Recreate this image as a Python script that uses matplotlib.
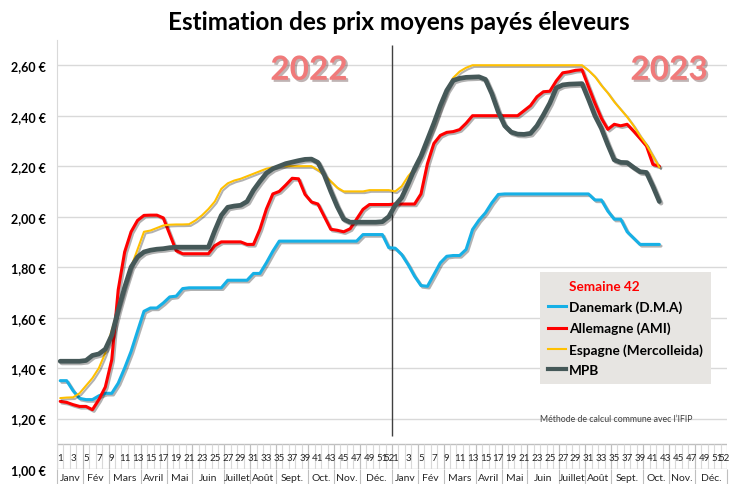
import numpy as np
import matplotlib
matplotlib.use("Agg")
import matplotlib.pyplot as plt
import matplotlib.patheffects as pe
from matplotlib.lines import Line2D
from matplotlib.transforms import blended_transform_factory

plt.rcParams['font.family'] = ['Lato', 'DejaVu Sans']

# prix hebdomadaires (EUR/kg) - 2022 (52 semaines) puis 2023 (semaines 1 a 42)
danemark_2022 = [1.35, 1.35, 1.31, 1.28, 1.275, 1.275, 1.29, 1.30, 1.30, 1.34,
                 1.40, 1.466, 1.546, 1.625, 1.638, 1.638, 1.658, 1.682, 1.685, 1.715,
                 1.718, 1.718, 1.718, 1.718, 1.718, 1.718, 1.748, 1.748, 1.748, 1.748,
                 1.775, 1.775, 1.817, 1.863, 1.903, 1.903, 1.903, 1.903, 1.903, 1.903,
                 1.903, 1.903, 1.903, 1.903, 1.903, 1.903, 1.903, 1.929, 1.929, 1.929,
                 1.929, 1.877]
danemark_2023 = [1.875, 1.85, 1.81, 1.764, 1.727, 1.724, 1.77, 1.817, 1.843, 1.846,
                 1.846, 1.87, 1.949, 1.986, 2.015, 2.055, 2.088, 2.09, 2.09, 2.09,
                 2.09, 2.09, 2.09, 2.09, 2.09, 2.09, 2.09, 2.09, 2.09, 2.09,
                 2.09, 2.066, 2.066, 2.022, 1.99, 1.99, 1.94, 1.915, 1.89, 1.89,
                 1.89, 1.89]

allemagne_2022 = [1.268, 1.264, 1.255, 1.248, 1.248, 1.235, 1.275, 1.325, 1.433, 1.71,
                  1.86, 1.94, 1.985, 2.005, 2.006, 2.006, 1.995, 1.93, 1.865, 1.853,
                  1.853, 1.853, 1.853, 1.853, 1.885, 1.90, 1.90, 1.90, 1.90, 1.89,
                  1.89, 1.95, 2.03, 2.09, 2.10, 2.125, 2.152, 2.15, 2.088, 2.058,
                  2.05, 2.00, 1.95, 1.946, 1.94, 1.952, 1.99, 2.029, 2.048, 2.048,
                  2.048, 2.048]
allemagne_2023 = [2.05, 2.05, 2.05, 2.05, 2.09, 2.21, 2.29, 2.322, 2.334, 2.337,
                  2.345, 2.37, 2.40, 2.40, 2.40, 2.40, 2.40, 2.40, 2.40, 2.40,
                  2.42, 2.44, 2.475, 2.495, 2.497, 2.538, 2.57, 2.574, 2.58, 2.582,
                  2.515, 2.45, 2.39, 2.346, 2.366, 2.36, 2.366, 2.339, 2.31, 2.28,
                  2.207, 2.20]

espagne_2022 = [1.281, 1.283, 1.284, 1.30, 1.33, 1.36, 1.40, 1.46, 1.55, 1.63,
                1.72, 1.80, 1.87, 1.94, 1.945, 1.955, 1.965, 1.968, 1.969, 1.969,
                1.97, 1.985, 2.005, 2.03, 2.06, 2.11, 2.132, 2.143, 2.15, 2.16,
                2.17, 2.18, 2.19, 2.195, 2.20, 2.20, 2.20, 2.20, 2.20, 2.20,
                2.185, 2.165, 2.14, 2.115, 2.10, 2.10, 2.10, 2.10, 2.105, 2.105,
                2.105, 2.105]
espagne_2023 = [2.10, 2.12, 2.16, 2.19, 2.245, 2.30, 2.36, 2.43, 2.50, 2.55,
                2.575, 2.59, 2.60, 2.60, 2.60, 2.60, 2.60, 2.60, 2.60, 2.60,
                2.60, 2.60, 2.60, 2.60, 2.60, 2.60, 2.60, 2.60, 2.60, 2.60,
                2.58, 2.555, 2.52, 2.49, 2.455, 2.425, 2.395, 2.36, 2.32, 2.285,
                2.24, 2.195]

mpb_2022 = [1.427, 1.427, 1.427, 1.427, 1.43, 1.45, 1.456, 1.475, 1.53, 1.63,
            1.72, 1.80, 1.84, 1.86, 1.867, 1.871, 1.873, 1.877, 1.879, 1.879,
            1.879, 1.879, 1.879, 1.879, 1.945, 2.005, 2.037, 2.042, 2.045, 2.06,
            2.105, 2.14, 2.172, 2.19, 2.20, 2.21, 2.216, 2.222, 2.227, 2.228,
            2.215, 2.165, 2.10, 2.04, 1.99, 1.978, 1.978, 1.978, 1.978, 1.978,
            1.98, 2.00]
mpb_2023 = [2.045, 2.075, 2.13, 2.19, 2.24, 2.305, 2.37, 2.44, 2.50, 2.54,
            2.548, 2.552, 2.553, 2.554, 2.544, 2.487, 2.415, 2.36, 2.335, 2.327,
            2.326, 2.33, 2.36, 2.403, 2.45, 2.51, 2.522, 2.525, 2.526, 2.527,
            2.465, 2.40, 2.35, 2.285, 2.225, 2.215, 2.214, 2.195, 2.178, 2.175,
            2.12, 2.06]

series = [
    ("Danemark (D.M.A)", danemark_2022 + danemark_2023, "#16B0E6", 2.2),
    ("Allemagne (AMI)", allemagne_2022 + allemagne_2023, "#FF0000", 2.2),
    ("Espagne (Mercolleida)", espagne_2022 + espagne_2023, "#FFC000", 1.5),
    ("MPB", mpb_2022 + mpb_2023, "#455858", 3.4),
]

mois = ["Janv", "Fév", "Mars", "Avril", "Mai", "Juin", "Juillet", "Août",
        "Sept.", "Oct.", "Nov.", "Déc."]
fin_mois = [4, 8, 13, 17, 21, 26, 30, 34, 39, 43, 47, 52]  # derniere semaine de chaque mois
semaines_lbl = list(range(1, 52, 2)) + [52]
annees = ["2022", "2023"]
nb_sem = 52

fig = plt.figure(figsize=(7.39, 4.85), dpi=100)
ax = fig.add_axes([57 / 739, 15 / 485, 670 / 739, 429 / 485])
ax.set_xlim(-0.5, 2 * nb_sem - 0.5)
ax.set_ylim(1.0, 2.7)

for v in np.arange(1.2, 2.61, 0.2):
    ax.axhline(v, color="#D9D9D9", lw=1, zorder=0)

for nom, vals, col, lw in series:
    ax.plot(np.arange(len(vals)), vals, color=col, lw=lw, solid_capstyle="round",
            solid_joinstyle="round", zorder=3,
            path_effects=[pe.SimpleLineShadow(offset=(1.2, -1.2), alpha=0.3), pe.Normal()])

# separation des annees
ax.vlines(nb_sem - 0.5, 1.13, 2.68, color="#404040", lw=1, zorder=2)

# axe des categories (semaines / mois)
trans = blended_transform_factory(ax.transData, ax.transAxes)
ax.axhline(1.1, color="#BFBFBF", lw=1)
ax.axhline(1.0, color="#BFBFBF", lw=1)
ax.vlines(np.arange(-0.5, 2 * nb_sem), 1.0, 1.1, color="#D9D9D9", lw=0.8)
for k in range(2):
    off = k * nb_sem
    for w in semaines_lbl:
        ax.text(off + w - 1, 1.045, str(w), ha="center", va="center", fontsize=7,
                color="#262626")
    debut = 0
    for m, f in zip(mois, fin_mois):
        ax.text(off + (debut + f - 1) / 2, -0.02, m, transform=trans, ha="center",
                va="center", fontsize=7.5, color="#262626")
        debut = f
bords = [-0.5] + [k * nb_sem + f - 0.5 for k in range(2) for f in fin_mois]
ax.vlines(bords, -0.04, 0, transform=trans, color="#BFBFBF", lw=0.8, clip_on=False)
ax.vlines(bords, 1.0, 1.1, color="#BFBFBF", lw=0.8)

ax.set_xticks([])
ax.set_yticks(np.arange(1.0, 2.61, 0.2))
ax.set_yticklabels([f"{v:.2f} €".replace(".", ",") for v in np.arange(1.0, 2.61, 0.2)],
                   fontsize=9, fontweight="bold")
ax.tick_params(axis="y", length=0, pad=8)
for s in ["top", "right", "bottom"]:
    ax.spines[s].set_visible(False)
ax.spines["left"].set_color("#D9D9D9")

# annees
for k, an in enumerate(annees):
    ax.text(38.6 + k * 55.9, 2.58, an, ha="center", va="center", fontsize=24,
            fontweight="bold", color="#F07A7A",
            path_effects=[pe.withSimplePatchShadow(offset=(1.5, -1.5), alpha=0.35)])

fig.text(0.54, 0.953, "Estimation des prix moyens payés éleveurs", ha="center",
         va="center", fontsize=17.5, fontweight="bold")

handles = [Line2D([], [], color="none")]
labels = ["Semaine 42"]
for nom, vals, col, lw in series:
    handles.append(Line2D([], [], color=col, lw=min(lw, 3)))
    labels.append(nom)
leg = ax.legend(handles, labels, loc="upper left", bbox_to_anchor=(0.721, 0.459),
                frameon=True, fancybox=False, facecolor="#E7E5E2", edgecolor="none",
                framealpha=1, borderaxespad=0, borderpad=0.6, handlelength=1.3,
                handletextpad=0.2, labelspacing=0.62, prop={"size": 9.8, "weight": "bold"})
leg.get_texts()[0].set_color("#FF0000")
leg.set_zorder(5)

ax.text(0.721, 0.118, "Méthode de calcul commune avec l’IFIP", transform=ax.transAxes,
        fontsize=6.3, color="#404040", va="center")

fig.savefig("out.png", dpi=100)
